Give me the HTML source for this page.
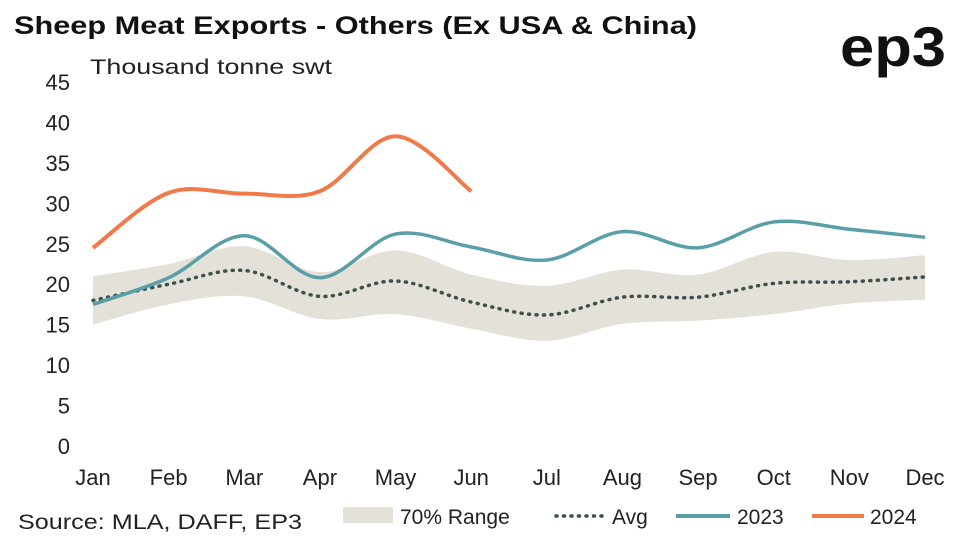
<!DOCTYPE html>
<html><head><meta charset="utf-8"><style>
body{margin:0;background:#fff;width:962px;height:541px;overflow:hidden;font-family:"Liberation Sans",sans-serif}
</style></head><body>
<svg width="962" height="541" xmlns="http://www.w3.org/2000/svg">
<text x="14" y="34" font-size="25" font-weight="bold" fill="#111" textLength="683" lengthAdjust="spacingAndGlyphs">Sheep Meat Exports - Others (Ex USA &amp; China)</text>
<text x="840" y="66" font-size="56" font-weight="bold" fill="#111" textLength="106" lengthAdjust="spacingAndGlyphs">ep3</text>
<text x="90" y="74" font-size="21" fill="#222" textLength="242" lengthAdjust="spacingAndGlyphs">Thousand tonne swt</text>
<g id="yt"></g>
<g id="xt"></g>
<path id="band" fill="#e4e2d8"/>
<path id="avg" fill="none" stroke="#3e4f4f" stroke-width="3.5" stroke-dasharray="1 6.5" stroke-linecap="round"/>
<path id="s23" fill="none" stroke="#5a9fa8" stroke-width="3.5"/>
<path id="s24" fill="none" stroke="#f07a4a" stroke-width="4"/>
<text x="18" y="529" font-size="21" fill="#222" textLength="284" lengthAdjust="spacingAndGlyphs">Source: MLA, DAFF, EP3</text>
<g>
<rect x="343" y="507" width="50" height="16" fill="#e4e2d8"/>
<text x="400" y="524" font-size="21" fill="#222">70% Range</text>
<line x1="556" y1="516" x2="604" y2="516" stroke="#3e4f4f" stroke-width="3.5" stroke-dasharray="1 6.5" stroke-linecap="round"/>
<text x="612" y="524" font-size="21" fill="#222">Avg</text>
<line x1="676" y1="516" x2="730" y2="516" stroke="#5a9fa8" stroke-width="4"/>
<text x="737" y="524" font-size="21" fill="#222">2023</text>
<line x1="812" y1="516" x2="864" y2="516" stroke="#f07a4a" stroke-width="4"/>
<text x="870" y="524" font-size="21" fill="#222">2024</text>
</g>
</svg>
<script>
const months=["Jan","Feb","Mar","Apr","May","Jun","Jul","Aug","Sep","Oct","Nov","Dec"];
const yTicks=[0,5,10,15,20,25,30,35,40,45];
const v2024=[24.5,31.3,31.2,31.5,38.3,31.5];
const v2023=[17.5,20.8,26,20.8,26.2,24.6,23,26.5,24.5,27.7,26.8,25.8];
const vAvg=[18,20,21.7,18.5,20.4,17.8,16.2,18.4,18.4,20.1,20.3,20.9];
const vHigh=[21,22.5,24.7,21.5,24.2,21.2,19.8,21.8,21.2,24,23,23.6];
const vLow=[15,17.5,18.5,15.7,16.3,14.5,13,15.1,15.5,16.3,17.6,18.1];
const X=i=>93+i*(925-93)/11, Y=v=>446-v*(446-82)/45;
const NS="http://www.w3.org/2000/svg";
const yt=document.getElementById('yt'),xt=document.getElementById('xt');
yTicks.forEach(t=>{const e=document.createElementNS(NS,'text');e.setAttribute('x',70);e.setAttribute('y',Y(t)+8);e.setAttribute('font-size',22);e.setAttribute('fill','#222');e.setAttribute('text-anchor','end');e.textContent=t;


yt.appendChild(e);});
months.forEach((m,i)=>{const e=document.createElementNS(NS,'text');e.setAttribute('x',X(i));e.setAttribute('y',485);e.setAttribute('font-size',22);e.setAttribute('fill','#222');e.setAttribute('text-anchor','middle');e.textContent=m;


xt.appendChild(e);});
function pts(a){return a.map((v,i)=>[X(i),Y(v)]);}
function smooth(p,move=true){let d=move?`M${p[0][0]},${p[0][1]}`:`L${p[0][0]},${p[0][1]}`;
for(let i=0;i<p.length-1;i++){const p0=p[i-1]||p[i],p1=p[i],p2=p[i+1],p3=p[i+2]||p2;
d+=`C${p1[0]+(p2[0]-p0[0])/6},${p1[1]+(p2[1]-p0[1])/6} ${p2[0]-(p3[0]-p1[0])/6},${p2[1]-(p3[1]-p1[1])/6} ${p2[0]},${p2[1]}`;}return d;}
document.getElementById('s24').setAttribute('d',smooth(pts(v2024)));
document.getElementById('s23').setAttribute('d',smooth(pts(v2023)));
document.getElementById('avg').setAttribute('d',smooth(pts(vAvg)));
const hp=pts(vHigh),lp=pts(vLow).reverse();
document.getElementById('band').setAttribute('d',smooth(hp)+smooth(lp,false)+'Z');
</script>
</body></html>
